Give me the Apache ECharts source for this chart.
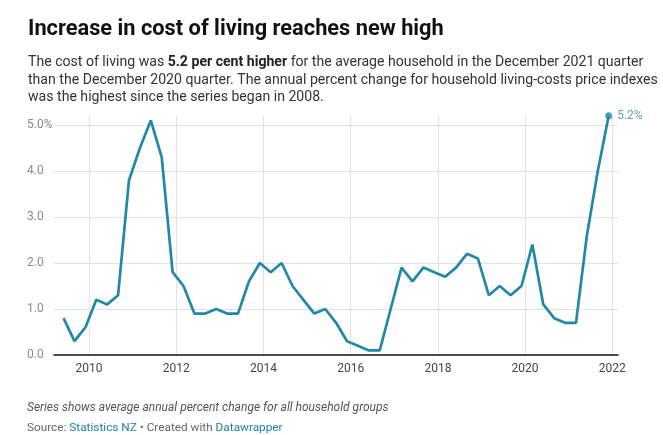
<!DOCTYPE html>
<html><head><meta charset="utf-8">
<script src="https://cdn.jsdelivr.net/npm/echarts@6/dist/echarts.min.js"></script>
<style>html,body{margin:0;padding:0;background:#fff}#c{width:663px;height:435px}</style>
</head><body><div id="c"></div>
<script>
// Quarter labels (end-of-quarter month plotted)
const quarters = [
  '2009 Q2','2009 Q3','2009 Q4',
  '2010 Q1','2010 Q2','2010 Q3','2010 Q4',
  '2011 Q1','2011 Q2','2011 Q3','2011 Q4',
  '2012 Q1','2012 Q2','2012 Q3','2012 Q4',
  '2013 Q1','2013 Q2','2013 Q3','2013 Q4',
  '2014 Q1','2014 Q2','2014 Q3','2014 Q4',
  '2015 Q1','2015 Q2','2015 Q3','2015 Q4',
  '2016 Q1','2016 Q2','2016 Q3','2016 Q4',
  '2017 Q1','2017 Q2','2017 Q3','2017 Q4',
  '2018 Q1','2018 Q2','2018 Q3','2018 Q4',
  '2019 Q1','2019 Q2','2019 Q3','2019 Q4',
  '2020 Q1','2020 Q2','2020 Q3','2020 Q4',
  '2021 Q1','2021 Q2','2021 Q3','2021 Q4'
];
// Annual percent change, all household groups
const values = [
  0.8, 0.3, 0.6,
  1.2, 1.1, 1.3, 3.8,
  4.5, 5.1, 4.3, 1.8,
  1.5, 0.9, 0.9, 1.0,
  0.9, 0.9, 1.6, 2.0,
  1.8, 2.0, 1.5, 1.2,
  0.9, 1.0, 0.7, 0.3,
  0.2, 0.1, 0.1, 1.0,
  1.9, 1.6, 1.9, 1.8,
  1.7, 1.9, 2.2, 2.1,
  1.3, 1.5, 1.3, 1.5,
  2.4, 1.1, 0.8, 0.7,
  0.7, 2.6, 4.0, 5.2
];
const titleText = 'Increase in cost of living reaches new high';
const subtitleText = 'The cost of living was {b|5.2 per cent higher} for the average household in the December 2021 quarter\nthan the December 2020 quarter. The annual percent change for household living-costs price indexes\nwas the highest since the series began in 2008.';
const noteText = 'Series shows average annual percent change for all household groups';
const sourceText = 'Source: {a|Statistics NZ} • Created with {a|Datawrapper}';

function qToYear(q) {
  const [y, qq] = q.split(' Q');
  return Number(y) + (3 * Number(qq) - 1) / 12;
}
const xs = quarters.map(qToYear);
const lineData = xs.map((x, i) => [x, values[i]]);
const last = lineData.length - 1;

const TEAL = '#2188a7';
const GRID = '#e2e2e2';
const FONT = 'Roboto, "Noto Sans", sans-serif';

const chart = echarts.init(document.getElementById('c'), null, {renderer: 'canvas'});
chart.setOption({
  animation: false,
  backgroundColor: '#fff',
  title: [
    {text: titleText, left: 23, top: 12,
     textStyle: {fontFamily: FONT, fontSize: 21.8, fontWeight: 'bold', color: '#111', lineHeight: 26}},
    {text: subtitleText, left: 23, top: 49,
     textStyle: {fontFamily: FONT, fontSize: 14.1, fontWeight: 'normal', color: '#333', lineHeight: 17.5,
       rich: {b: {fontFamily: FONT, fontSize: 14.1, fontWeight: 'bold', color: '#222', lineHeight: 17.5}}}},
    {text: noteText, left: 22, top: 395,
     textStyle: {fontFamily: FONT, fontSize: 12, fontStyle: 'italic', fontWeight: 'normal', color: '#555', lineHeight: 16}},
    {text: sourceText, left: 22, top: 415,
     textStyle: {fontFamily: FONT, fontSize: 11.8, fontWeight: 'normal', color: '#666', lineHeight: 16,
       rich: {a: {fontFamily: FONT, fontSize: 11.8, color: '#1d81a2', lineHeight: 16}}}}
  ],
  grid: {left: 54, right: 45, top: 115.8, bottom: 80, containLabel: false},
  xAxis: {
    type: 'value', min: 2009.197, max: 2022.13, splitNumber: 6,
    axisLine: {show: true, onZero: true, lineStyle: {color: '#111', width: 1.5}},
    axisTick: {show: false},
    axisLabel: {show: true, color: '#444', fontFamily: FONT, fontSize: 12, margin: 8,
      showMinLabel: false, showMaxLabel: false, formatter: v => String(v)},
    splitLine: {show: true, lineStyle: {color: ['transparent', GRID, GRID, GRID, GRID, GRID, GRID, GRID, 'transparent'], width: 1}}
  },
  yAxis: {
    type: 'value', min: 0, max: 5.2, splitNumber: 5,
    axisLine: {show: false}, axisTick: {show: false},
    axisLabel: {color: '#8a8a8a', fontFamily: FONT, fontSize: 12, align: 'left', margin: 27,
      showMaxLabel: false,
      formatter: v => v === 5 ? '5.0%' : v.toFixed(1)},
    splitLine: {show: true, lineStyle: {color: ['transparent', GRID, GRID, GRID, GRID, GRID, 'transparent'], width: 1}}
  },
  series: [
    {type: 'line', data: lineData, showSymbol: false, symbol: 'none',
     lineStyle: {color: TEAL, width: 2.7}, z: 3, silent: true},
    {type: 'scatter', data: [lineData[last]], symbol: 'circle', symbolSize: 7,
     itemStyle: {color: TEAL}, z: 4, silent: true,
     label: {show: true, position: 'right', distance: 5, color: '#3b86a2', fontFamily: FONT, fontSize: 12,
       formatter: p => p.value[1].toFixed(1) + '%'}}
  ]
});
</script></body></html>
